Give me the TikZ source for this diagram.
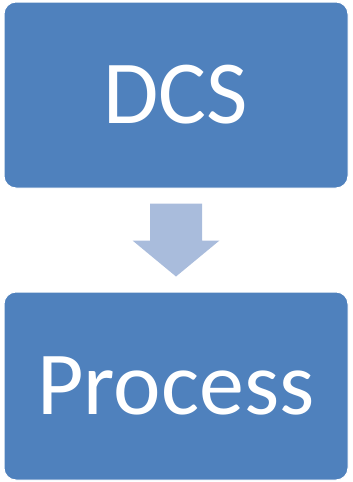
\documentclass[tikz,border=0pt]{standalone}
\usepackage{fontspec}
\setmainfont{Carlito}
\usetikzlibrary{calc}

\definecolor{boxblue}{HTML}{4F81BD}
\definecolor{arrowblue}{HTML}{A9BCDC}

\tikzset{
  stepbox/.style={fill=boxblue, draw=white, line width=1pt, rounded corners=12pt,
    minimum width=344pt, inner sep=0pt, text=white, font=\fontsize{90}{90}\selectfont},
  downarrow/.style={fill=arrowblue}
}

\begin{document}
\begin{tikzpicture}[x=1pt,y=-1pt]

	\useasboundingbox (0,0) rectangle (353,482);

	% the two boxes
	\node[stepbox, minimum height=186pt] (dcs) at (176,95) {DCS};
	\node[stepbox, minimum height=188pt] (proc) at (176,386) {Process};

	% block arrow between them
	\coordinate (top) at ($(dcs.south)+(0,15)$);
	\coordinate (tip) at ($(proc.north)+(0,-15)$);
	\fill[downarrow] ($(top)+(-26,0)$) -- ($(top)+(26,0)$) -- ($(top)+(26,37)$)
		-- ($(top)+(43.5,37)$) -- (tip) -- ($(top)+(-43.5,37)$)
		-- ($(top)+(-26,37)$) -- cycle;

\end{tikzpicture}
\end{document}
